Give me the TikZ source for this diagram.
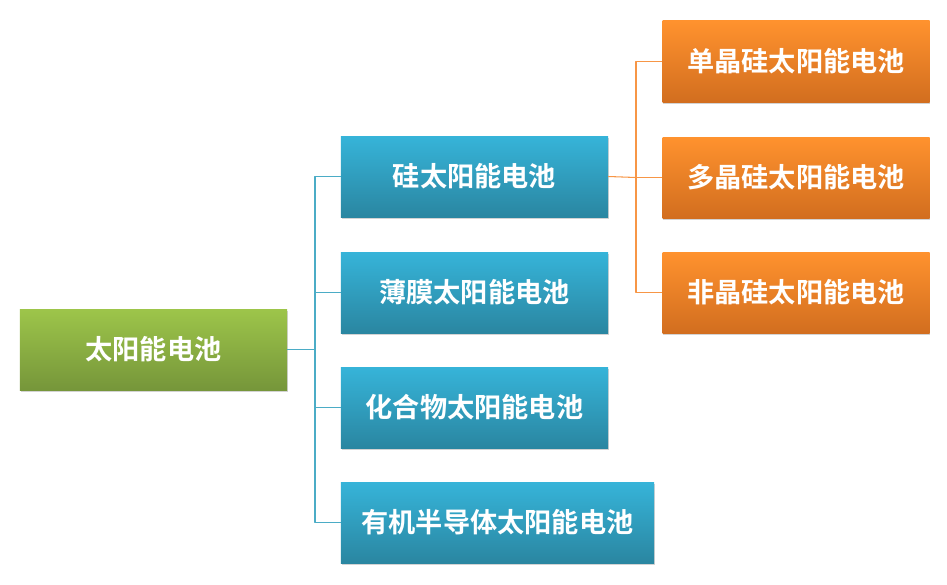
\documentclass[tikz,border=0pt]{standalone}
\usepackage{fontspec}
\newfontfamily\cjk{Noto Sans CJK SC Bold}
\usetikzlibrary{shadows}
\definecolor{grntop}{HTML}{9DC54A}
\definecolor{grnbot}{HTML}{76963A}
\definecolor{blutop}{HTML}{36B4D9}
\definecolor{blubot}{HTML}{2A86A1}
\definecolor{orgtop}{HTML}{FF922E}
\definecolor{orgbot}{HTML}{D26E1F}
\definecolor{bluline}{HTML}{4BACC6}
\definecolor{orgline}{HTML}{F79646}
\begin{document}
\begin{tikzpicture}[x=0.03cm, y=-0.03cm, font=\cjk\fontsize{23.2}{27}\selectfont, line join=round,
	box/.style={minimum width=8.01cm, minimum height=2.43cm, inner sep=0pt, text=white,
		drop shadow={shadow xshift=0.5pt, shadow yshift=-2pt, opacity=0.35}},
	rootbox/.style={box, top color=grntop, bottom color=grnbot},
	midbox/.style={box, top color=blutop, bottom color=blubot},
	leafbox/.style={box, top color=orgtop, bottom color=orgbot},
	bline/.style={draw=bluline, line width=0.9pt},
	oline/.style={draw=orgline, line width=0.9pt}]
	\useasboundingbox (0,0) rectangle (947,585);
	% root
	\node[rootbox] (sun) at (153.5,349.5) {太阳能电池};
	% second level
	\node[midbox] (si) at (474.5,176.5) {硅太阳能电池};
	\node[midbox] (film) at (474.5,292.5) {薄膜太阳能电池};
	\node[midbox] (comp) at (474.5,407.5) {化合物太阳能电池};
	\node[midbox, minimum width=9.39cm] (org) at (497.5,522.5) {有机半导体太阳能电池};
	% third level
	\node[leafbox] (mono) at (796,61.5) {单晶硅太阳能电池};
	\node[leafbox] (poly) at (796,177.5) {多晶硅太阳能电池};
	\node[leafbox] (amor) at (796,292.5) {非晶硅太阳能电池};
	% connectors
	\coordinate (j1) at (315,349.5);
	\coordinate (j2) at (636,177.5);
	\draw[bline] (sun.east) -- (j1);
	\draw[bline] (j1) |- (si.west);
	\draw[bline] (j1) |- (film.west);
	\draw[bline] (j1) |- (comp.west);
	\draw[bline] (j1) |- (org.west);
	\draw[oline] (si.east) -- (j2);
	\draw[oline] (j2) |- (mono.west);
	\draw[oline] (j2) |- (poly.west);
	\draw[oline] (j2) |- (amor.west);
\end{tikzpicture}
\end{document}
